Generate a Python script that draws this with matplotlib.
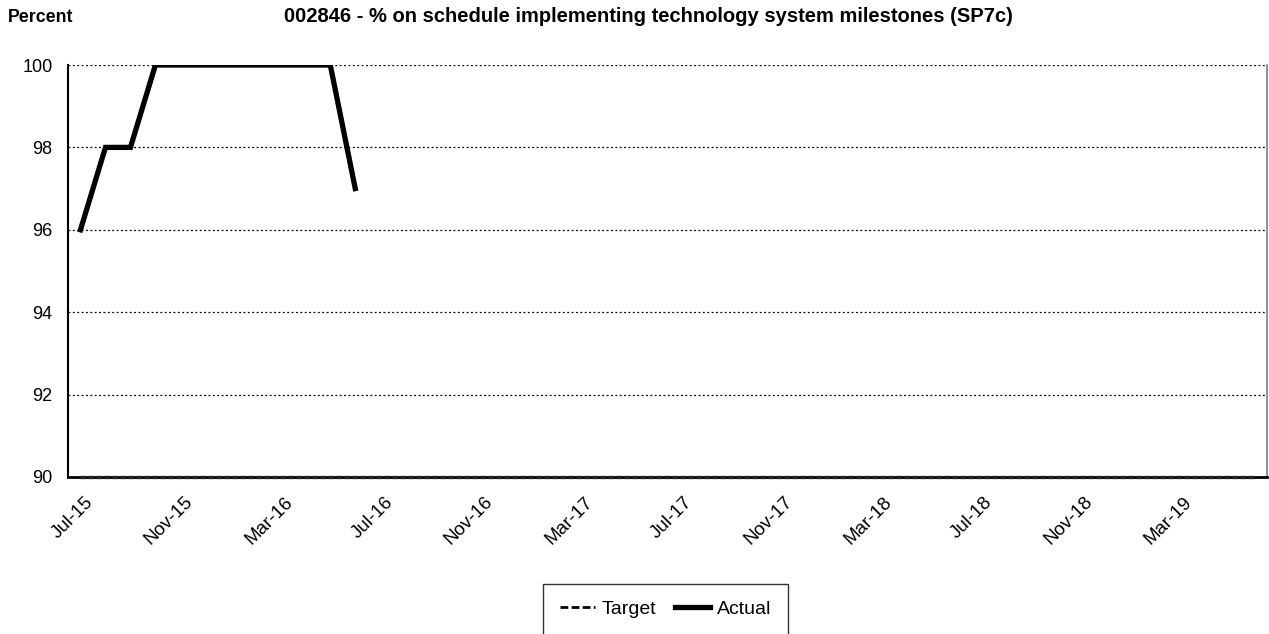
import matplotlib
matplotlib.use("Agg")
import matplotlib.pyplot as plt
import matplotlib.transforms as mtransforms
from matplotlib.lines import Line2D

plt.rcParams['font.family'] = ['Liberation Sans', 'DejaVu Sans']

months = []
for y in range(15, 20):
    for m in ["Jan", "Feb", "Mar", "Apr", "May", "Jun", "Jul", "Aug", "Sep", "Oct", "Nov", "Dec"]:
        months.append(f"{m}-{y}")
categories = months[months.index("Jul-15"):months.index("Jun-19") + 1]

target = [90] * len(categories)
actual = [96, 98, 98, 100, 100, 100, 100, 100, 100, 100, 100, 97]

tick_labels = categories[::4]

fig = plt.figure(figsize=(12.69, 6.34), dpi=100)
ax = fig.add_axes([68/1269, 1 - 477/634, (1267-68)/1269, (477-65)/634])

x = [i + 0.5 for i in range(len(categories))]
ax.plot(x, target, color='#222222', linestyle=(0, (1.6, 0.8)), linewidth=2.4, zorder=5, clip_on=False)
ax.plot(x[:len(actual)], actual, color='black', linewidth=3.8, solid_joinstyle='miter', zorder=4)

ax.set_xlim(0, len(categories))
ax.set_ylim(90, 100)
ax.set_yticks(range(90, 101, 2))
ax.set_yticklabels([str(v) for v in range(90, 101, 2)], fontsize=13)
ax.yaxis.grid(True, linestyle=(0, (1.5, 2)), color='black', linewidth=0.9)
ax.set_axisbelow(True)

ax.set_xticks(x[::4])
ax.set_xticklabels(tick_labels, rotation=45, ha='right', va='center', rotation_mode='anchor', fontsize=13.5)
ax.tick_params(axis='x', length=0, pad=14)
ax.tick_params(axis='y', length=0, pad=11)
offset = mtransforms.ScaledTranslation(10/100, -3/100, fig.dpi_scale_trans)
for lbl in ax.get_xticklabels():
    lbl.set_transform(lbl.get_transform() + offset)

ax.spines['top'].set_visible(False)
ax.spines['right'].set_color('#808080')
ax.spines['right'].set_linewidth(1.2)
ax.spines['left'].set_linewidth(1.5)
ax.spines['bottom'].set_linewidth(2.0)

fig.text(8/1269, 1 - 17/634, "Percent", fontsize=12.8, fontweight='bold', va='center', ha='left')
fig.text(648/1269, 1 - 17/634, "002846 - % on schedule implementing technology system milestones (SP7c)",
         fontsize=14.5, fontweight='bold', va='center', ha='center')

handles = [Line2D([0], [0], color='black', linestyle=(0, (2.8, 1.2)), linewidth=2.0),
           Line2D([0], [0], color='black', linewidth=3.8)]
leg = fig.legend(handles, ["Target", "Actual"], loc='upper left',
                 bbox_to_anchor=(543/1269, 1 - 584/634), ncol=2, fontsize=14,
                 frameon=True, fancybox=False, edgecolor='black', handlelength=1.8,
                 columnspacing=1.0, handletextpad=0.35, borderpad=0.85, borderaxespad=0)
leg.get_frame().set_linewidth(1.0)

fig.savefig("out.png", dpi=100)
